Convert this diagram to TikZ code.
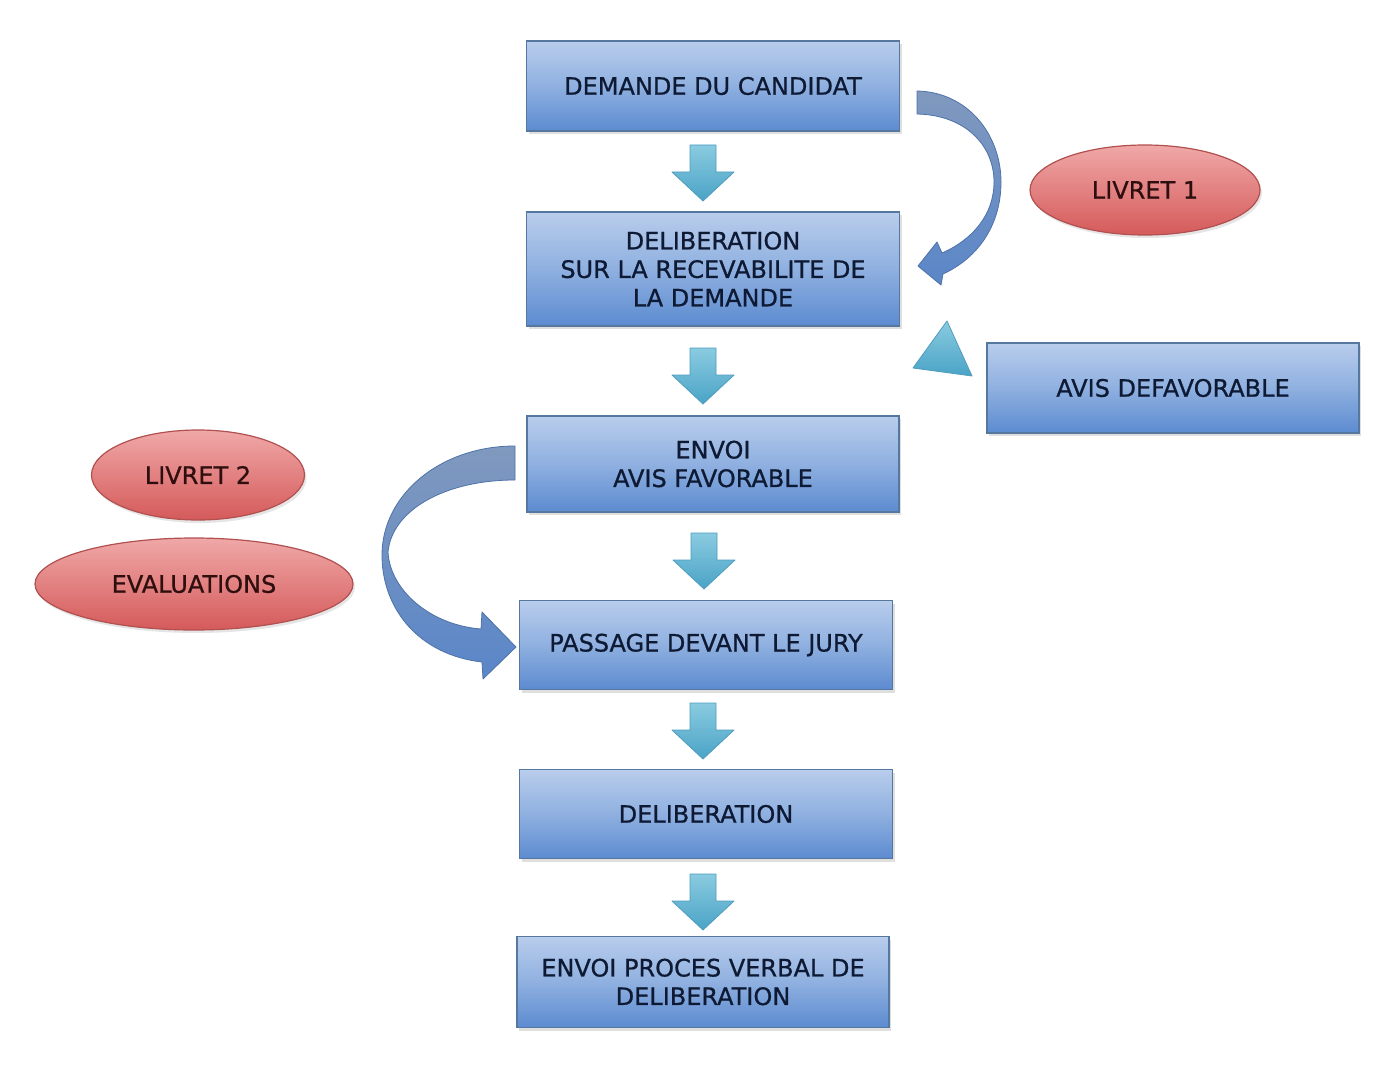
\documentclass[tikz,border=0pt]{standalone}
\usepackage{fontspec}
\setmainfont{DejaVu Sans}[FakeBold=0.8]
\newfontfamily\boxfont{DejaVu Sans}[FakeBold=0.8]
\usetikzlibrary{shadows,shapes.geometric,calc}
\definecolor{boxtop}{HTML}{B9CDEC}
\definecolor{boxmid}{HTML}{8FB0E0}
\definecolor{boxbot}{HTML}{5C8BD0}
\definecolor{boxline}{HTML}{56789F}
\definecolor{txt}{HTML}{0E1A33}
\definecolor{redtop}{HTML}{F0A8A8}
\definecolor{redbot}{HTML}{D55A5A}
\definecolor{redline}{HTML}{B0504F}
\definecolor{redtxt}{HTML}{2E0E0E}
\definecolor{tealtop}{HTML}{8ACBE0}
\definecolor{tealbot}{HTML}{4AA3C6}
\definecolor{tealline}{HTML}{4E9DBE}
\definecolor{curvtop}{HTML}{8099BE}
\definecolor{curvbot}{HTML}{5A86C8}
\definecolor{curvline}{HTML}{4F72A8}
\newcommand\blockdown[2]{%
  \path[downarr] (#1-13,#2) -- (#1+13,#2) -- (#1+13,#2+27) -- (#1+31,#2+27)
    -- (#1,#2+56) -- (#1-31,#2+27) -- (#1-13,#2+27) -- cycle;}
\begin{document}
\begin{tikzpicture}[x=1pt,y=-1pt,
  box/.style={draw=boxline, line width=1.3pt, top color=boxtop, bottom color=boxbot,
    middle color=boxmid, align=center, inner sep=0pt, text=txt,
    font=\boxfont\fontsize{24}{28.5}\selectfont,
    drop shadow={opacity=0.25, shadow xshift=2pt, shadow yshift=-3pt}},
  oval/.style={ellipse, draw=redline, line width=1.2pt, top color=redtop, bottom color=redbot,
    inner sep=0pt, text=redtxt, font=\boxfont\fontsize{24}{28.5}\selectfont,
    drop shadow={opacity=0.2, shadow xshift=2pt, shadow yshift=-3pt}},
  downarr/.style={draw=tealline, line width=0.8pt, top color=tealtop, bottom color=tealbot, line join=round},
  curved/.style={draw=curvline, line width=0.8pt, top color=curvtop, bottom color=curvbot, line join=round}]
\useasboundingbox (0,0) rectangle (1400,1075);
\fill[white] (0,0) rectangle (1400,1075);

\node[box, minimum width=373pt, minimum height=90pt] (b1) at (713,86) {DEMANDE DU CANDIDAT};
\node[box, minimum width=373pt, minimum height=114pt] (b2) at (713,269) {DELIBERATION\\SUR LA RECEVABILITE DE\\LA DEMANDE};
\node[box, minimum width=372pt, minimum height=96pt] (b3) at (713,464) {ENVOI\\AVIS FAVORABLE};
\node[box, minimum width=373pt, minimum height=89pt] (b4) at (706,645) {PASSAGE DEVANT LE JURY};
\node[box, minimum width=373pt, minimum height=89pt] (b5) at (706,814) {DELIBERATION};
\node[box, minimum width=372pt, minimum height=91pt] (b6) at (703,982) {ENVOI PROCES VERBAL DE\\DELIBERATION};
\node[box, minimum width=372pt, minimum height=90pt] (b7) at (1173,388) {AVIS DEFAVORABLE};

\node[oval, minimum width=230pt, minimum height=90pt] (e1) at (1145,190) {LIVRET 1};
\node[oval, minimum width=213pt, minimum height=90pt] (e2) at (198,475) {LIVRET 2};
\node[oval, minimum width=318pt, minimum height=92pt] (e3) at (194,584) {EVALUATIONS};

\blockdown{703}{145}
\blockdown{703}{348}
\blockdown{704}{533}
\blockdown{703}{703}
\blockdown{703}{874}

% triangle towards b2
\path[downarr] (947,321) -- (972,376) -- (913,368) -- cycle;

% curved arrow b1 -> b2
\path[curved] (917,91) .. controls (968,92) and (1001,135) .. (1001,182)
  .. controls (1001,225) and (978,258) .. (943,274) -- (941,285) -- (918,266) -- (937,242)
  -- (942,253) .. controls (972,240) and (994,215) .. (994,182)
  .. controls (994,145) and (965,115) .. (917,114) -- cycle;

% curved arrow b3 -> b4
\path[curved] (515,446) .. controls (440,446) and (382,495) .. (382,555)
  .. controls (382,610) and (420,655) .. (482,662) -- (483,679) -- (516,647) -- (482,612)
  -- (481,629) .. controls (430,625) and (390,590) .. (388,552)
  .. controls (392,510) and (445,480) .. (515,480) -- cycle;
\end{tikzpicture}
\end{document}
